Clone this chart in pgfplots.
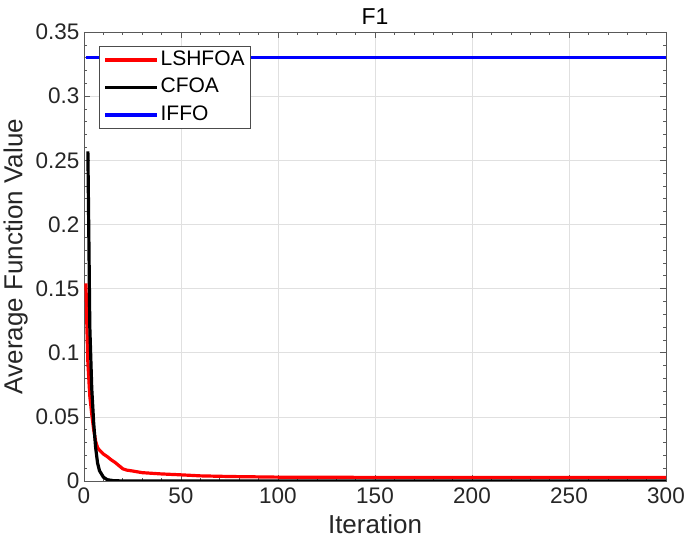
\documentclass[border=0pt]{standalone}
\usepackage{fontspec}
\setmainfont{Liberation Sans}
\usepackage{pgfplots}
\pgfplotsset{compat=1.18}

\definecolor{axgray}{gray}{0.35}
\definecolor{gridgray}{gray}{0.88}

\begin{document}
\begin{tikzpicture}
\useasboundingbox (-84pt,-67pt) rectangle (601pt,481pt);
\begin{axis}[
    at={(0pt,0pt)}, anchor=south west,
    scale only axis,
    width=582pt, height=449pt,
    xmin=0, xmax=300, ymin=0, ymax=0.35,
    xtick={0,50,100,150,200,250,300},
    ytick={0,0.05,0.1,0.15,0.2,0.25,0.3,0.35},
    yticklabels={0,0.05,0.1,0.15,0.2,0.25,0.3,0.35},
    minor tick num=4,
    tick align=inside,
    major tick length=6pt, minor tick length=3pt,
    every tick/.style={axgray, line width=0.6pt},
    axis line style={axgray, line width=0.8pt},
    grid=major,
    major grid style={gridgray, line width=0.6pt},
    /pgf/number format/assume math mode=true,
    tick label style={font=\fontsize{22.5}{25}\selectfont, text=black!85},
    xticklabel style={yshift=-3pt},
    yticklabel style={xshift=-1pt},
    xlabel={Iteration},
    ylabel={Average Function Value},
    label style={font=\fontsize{26}{30}\selectfont, text=black!85},
    xlabel style={yshift=-4pt},
    ylabel style={yshift=1pt},
    title={F1},
    title style={font=\fontsize{23}{26}\selectfont, yshift=-2pt},
    legend cell align=left,
    legend style={at={(0.0258,0.9688)}, anchor=north west,
        draw=black!70, line width=0.8pt, fill=white,
        font=\fontsize{21}{24}\selectfont,
        nodes={text height=15pt, text depth=4pt, inner sep=2pt},
        row sep=4.5pt, inner xsep=4pt, inner ysep=2pt},
    legend image code/.code={\draw[#1] (0pt,0pt) -- (52pt,0pt);},
]
\addplot[red, line width=3.2pt] coordinates {
    (1,0.154) (1.5,0.12) (2,0.092) (3,0.066) (4,0.052) (5,0.04)
    (6,0.031) (7,0.026) (8,0.024) (10,0.021) (12,0.019) (14,0.0165)
    (16,0.0145) (18,0.012) (20,0.0095) (22,0.0085) (25,0.0078) (30,0.0065)
    (40,0.0055) (50,0.0048) (60,0.004) (75,0.0035) (100,0.003)
    (150,0.0028) (200,0.0027) (300,0.0027)
};
\addlegendentry{LSHFOA}
\addplot[black, line width=3.2pt] coordinates {
    (2,0.257) (2.5,0.19) (3,0.12) (4,0.072) (5,0.045) (6,0.026)
    (7,0.014) (8,0.008) (10,0.003) (12,0.001) (15,0.0003) (20,0) (300,0)
};
\addlegendentry{CFOA}
\addplot[blue, line width=3.2pt] coordinates {
    (1,0.33) (300,0.33)
};
\addlegendentry{IFFO}
\end{axis}
\end{tikzpicture}
\end{document}
